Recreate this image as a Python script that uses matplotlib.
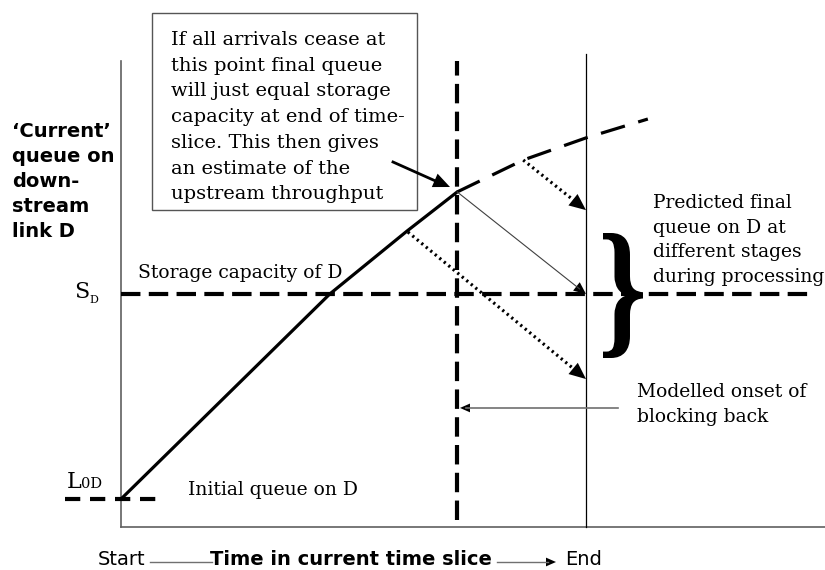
import matplotlib.pyplot as plt
from matplotlib import transforms
from matplotlib.patches import Rectangle, PathPatch, FancyArrowPatch
from matplotlib.textpath import TextPath
from matplotlib.font_manager import FontProperties

plt.rcParams['lines.scale_dashes'] = False

# Time within the slice (0 = start, 1 = end), queue level (S_D = 1)
t_now = 0.723
L0 = 0.12
S_D = 1.0
q_top = 2.0
blocking_q = 0.511

# Queue so far (solid) and extrapolated trend (dashed)
queue_t = [0.0, 0.449, 0.615, t_now]
queue_q = [L0, 1.0, 1.27, 1.438]
trend_t = [t_now, 0.865, 1.0, 1.133]
trend_q = [1.438, 1.575, 1.67, 1.751]

# Predicted final queue made at different stages
pred_t = [0.617, t_now, 0.865]
pred_q = [1.266, 1.438, 1.575]
pred_final = [0.635, S_D, 1.36]
pred_kind = ['dotted', 'thin', 'dotted']

box_lines = ['If all arrivals cease at', 'this point final queue',
             'will just equal storage', 'capacity at end of time-',
             'slice. This then gives', 'an estimate of the',
             'upstream throughput']
ylabel_lines = ['\u2018Current\u2019', 'queue on', 'down-', 'stream', 'link D']
pred_lines = ['Predicted final', 'queue on D at', 'different stages', 'during processing']
block_lines = ['Modelled onset of', 'blocking back']

serif = 'DejaVu Serif'
sans = 'DejaVu Sans'

fig = plt.figure(figsize=(8.25, 5.7), dpi=100)
ax = fig.add_axes([0, 0, 1, 1])
ax.set_xlim(-121 / 465, 704 / 465)
ax.set_ylim(-43 / 233, 527 / 233)
ax.axis('off')

# pixel coordinates from the top-left corner, for labels
px = transforms.Affine2D().scale(1 / 825, -1 / 570).translate(0, 1) + fig.transFigure


def head(x0, y0, x1, y1, scale=15, lw=0, color='black', trans=None):
    ax.add_patch(FancyArrowPatch((x0, y0), (x1, y1), arrowstyle='-|>,head_length=0.8,head_width=0.35',
                                 mutation_scale=scale, lw=lw, color=color, shrinkA=0, shrinkB=0,
                                 transform=trans if trans is not None else ax.transData))


def text_rows(x, y0, step, rows, **kw):
    for i, r in enumerate(rows):
        ax.text(x, y0 + i * step, r, transform=px, ha='left', va='baseline', **kw)


# axes frame
ax.plot([0, 0], [0, q_top], color='#606060', lw=1.2)
ax.plot([0, 704 / 465], [0, 0], color='#606060', lw=1.2)
ax.plot([1, 1], [0, 2.03], color='black', lw=0.9)

# reference lines
ax.plot([t_now, t_now], [0.03, q_top], color='black', lw=3, dashes=(14, 6))
ax.plot([0, 1.486], [S_D, S_D], color='black', lw=3, dashes=(14, 6))
ax.plot([-0.12, 0.092], [L0, L0], color='black', lw=3, dashes=(11, 7))

# queue and trend
ax.plot(queue_t, queue_q, color='black', lw=2.3, solid_capstyle='round')
ax.plot(trend_t, trend_q, color='black', lw=2.3, dashes=(18, 10))

# prediction arrows
for t0, q0, qf, kind in zip(pred_t, pred_q, pred_final, pred_kind):
    dt, dq = 1 - t0, qf - q0
    if kind == 'dotted':
        ax.plot([t0, t0 + dt * 0.92], [q0, q0 + dq * 0.92], color='black', lw=2.3, dashes=(1.6, 2.6))
        head(t0 + dt * 0.85, q0 + dq * 0.85, 1, qf)
    else:
        ax.plot([t0, 1 - dt * 0.05], [q0, q0 + dq * 0.95], color='#404040', lw=0.8)
        head(t0 + dt * 0.9, q0 + dq * 0.9, 1, qf, scale=11)

# blocking-back pointer
ax.plot([1.069, t_now + 0.02], [blocking_q, blocking_q], color='#707070', lw=1.2)
head(t_now + 0.04, blocking_q, t_now + 0.006, blocking_q, scale=9)

# annotation box
ax.add_patch(Rectangle((152, 13), 265, 197, fill=False, edgecolor='#555555', lw=1, transform=px))
text_rows(171, 45, 25.7, box_lines, family=serif, fontsize=14)
ax.plot([393, 440], [162, 183], color='black', lw=2, transform=px)
head(420, 174, 450, 187, scale=15, trans=px)

# brace
tp = TextPath((0, 0), '}', size=100, prop=FontProperties(family='Liberation Serif', weight='bold'))
ext = tp.get_extents()
fit = transforms.Affine2D().translate(-ext.x0, -ext.y0).scale(40 / ext.width, -125 / ext.height).translate(603, 358)
ax.add_patch(PathPatch(tp, transform=fit + px, facecolor='black', edgecolor='none'))

# labels
text_rows(12, 137, 25, ylabel_lines, family=sans, fontsize=14, fontweight='bold')
text_rows(653, 208, 24.7, pred_lines, family=serif, fontsize=13.5)
text_rows(637, 397, 25, block_lines, family=serif, fontsize=13.5)
ax.text(138, 278, 'Storage capacity of D', transform=px, family=serif, fontsize=13.5, va='baseline')
ax.text(188, 495, 'Initial queue on D', transform=px, family=serif, fontsize=13.5, va='baseline')
ax.text(74, 298, 'S', transform=px, family=serif, fontsize=16, va='baseline')
ax.text(89, 303, 'D', transform=px, family=serif, fontsize=8, va='baseline')
ax.text(67, 488, 'L', transform=px, family=serif, fontsize=16, va='baseline')
ax.text(81, 488, '0D', transform=px, family=serif, fontsize=10.5, va='baseline')

# time axis caption
ax.text(98, 565, 'Start', transform=px, family=sans, fontsize=14, va='baseline')
ax.plot([150, 212], [562, 562], color='#707070', lw=1, transform=px)
ax.text(210, 565, 'Time in current time slice', transform=px, family=sans, fontsize=14,
        fontweight='bold', va='baseline')
ax.plot([497, 548], [562, 562], color='#707070', lw=1, transform=px)
head(543, 562, 556, 562, scale=9, trans=px)
ax.text(565, 565, 'End', transform=px, family=sans, fontsize=14, va='baseline')

fig.savefig('out.png', dpi=100)
